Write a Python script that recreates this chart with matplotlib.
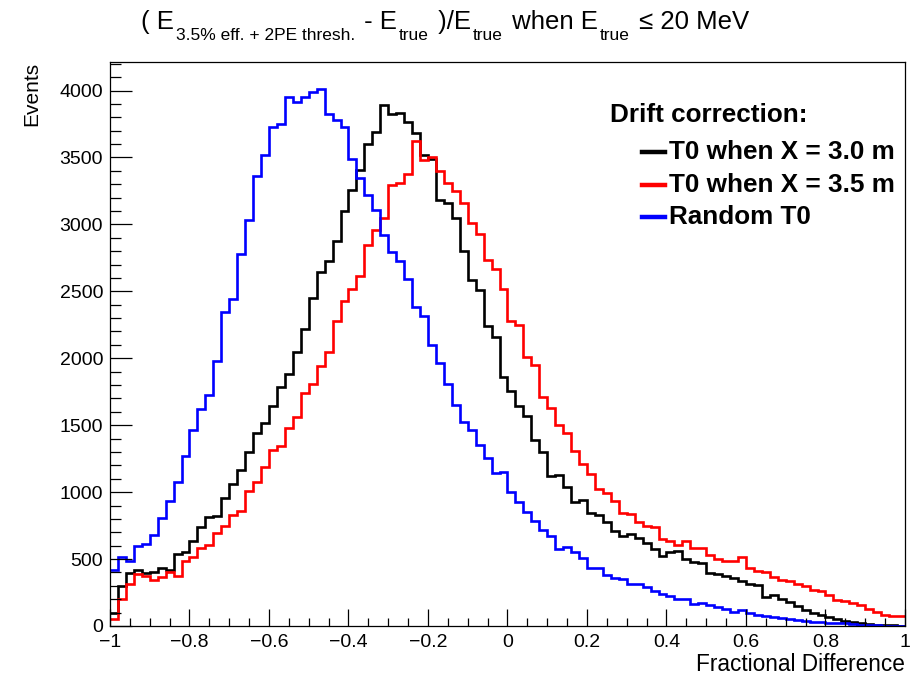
import matplotlib
matplotlib.use("Agg")
import matplotlib.pyplot as plt
import numpy as np
from matplotlib.transforms import IdentityTransform
from matplotlib.lines import Line2D

# 100 bins from -1 to 1
bin_edges = np.linspace(-1.0, 1.0, 101)

t0_30m = [
    100, 302, 394, 416, 396, 407, 432, 420, 538, 556,
    632, 740, 815, 823, 959, 1061, 1169, 1298, 1442, 1519,
    1644, 1782, 1884, 2044, 2218, 2448, 2648, 2729, 2877, 3103,
    3258, 3403, 3600, 3691, 3890, 3826, 3834, 3763, 3685, 3515,
    3485, 3183, 3161, 3047, 2799, 2588, 2508, 2238, 2160, 1858,
    1758, 1640, 1572, 1392, 1303, 1120, 1131, 1040, 925, 942,
    847, 830, 780, 707, 676, 690, 660, 623, 577, 523,
    556, 558, 500, 478, 468, 395, 385, 372, 356, 338,
    314, 306, 214, 230, 205, 181, 150, 120, 100, 82,
    65, 52, 40, 30, 22, 15, 10, 6, 4, 2,
]

t0_35m = [
    50, 199, 310, 392, 377, 342, 366, 400, 373, 483,
    514, 580, 606, 698, 750, 829, 856, 1008, 1077, 1188,
    1318, 1348, 1478, 1561, 1740, 1809, 1939, 2050, 2282, 2425,
    2519, 2618, 2847, 2955, 3048, 3292, 3307, 3378, 3621, 3480,
    3502, 3398, 3311, 3251, 3161, 3010, 2926, 2733, 2667, 2519,
    2279, 2246, 2013, 1953, 1710, 1631, 1504, 1444, 1308, 1209,
    1139, 1022, 990, 935, 843, 836, 774, 749, 736, 649,
    637, 604, 637, 582, 585, 530, 500, 488, 488, 512,
    434, 413, 402, 363, 345, 333, 312, 297, 272, 260,
    228, 191, 186, 169, 160, 125, 102, 80, 77, 77,
]

random_t0 = [
    419, 515, 482, 598, 616, 678, 809, 934, 1072, 1271,
    1464, 1624, 1729, 1981, 2348, 2439, 2782, 3033, 3362, 3522,
    3729, 3749, 3950, 3914, 3950, 3988, 4012, 3823, 3783, 3727,
    3490, 3348, 3217, 3109, 2920, 2792, 2729, 2595, 2381, 2315,
    2099, 1961, 1804, 1649, 1525, 1464, 1354, 1257, 1146, 1148,
    1000, 926, 850, 784, 720, 673, 578, 587, 552, 508,
    430, 430, 382, 360, 350, 312, 310, 292, 260, 239,
    221, 203, 199, 161, 175, 158, 144, 127, 102, 119,
    95, 85, 77, 70, 60, 52, 45, 35, 27, 27,
    22, 20, 20, 15, 10, 7, 7, 2, 2, 0,
]

series_labels = ["T0 when X = 3.0 m", "T0 when X = 3.5 m", "Random T0"]
series_colors = ["black", "red", "blue"]
legend_title = "Drift correction:"

x_ticks = [-1, -0.8, -0.6, -0.4, -0.2, 0, 0.2, 0.4, 0.6, 0.8, 1]
x_tick_labels = ["\u22121", "\u22120.8", "\u22120.6", "\u22120.4", "\u22120.2",
                 "0", "0.2", "0.4", "0.6", "0.8", "1"]
y_ticks = [0, 500, 1000, 1500, 2000, 2500, 3000, 3500, 4000]

FONT = "Liberation Sans"
plt.rcParams["font.family"] = FONT

fig = plt.figure(figsize=(9.12, 6.78), dpi=100)
W, H = 912, 678
ax = fig.add_axes([110 / W, 52 / H, 795 / W, 564 / H])

for vals, col in zip([t0_30m, t0_35m, random_t0], series_colors):
    ax.stairs(vals, bin_edges, color=col, linewidth=1.9, baseline=None)

ax.set_xlim(-1, 1)
ax.set_ylim(0, 4213)

ax.set_xticks(x_ticks)
ax.set_xticklabels(x_tick_labels)
ax.set_xticks(np.arange(-1, 1.001, 0.05), minor=True)
ax.set_yticks(y_ticks)
ax.set_yticks(np.arange(0, 4201, 100), minor=True)

ax.tick_params(axis="both", which="both", direction="in", top=False, right=False,
               labelsize=14, width=0.9)
ax.tick_params(axis="y", which="major", length=15.8, pad=5)
ax.tick_params(axis="y", which="minor", length=7.9)
ax.tick_params(axis="x", which="major", length=12.2, pad=6)
ax.tick_params(axis="x", which="minor", length=6.1)
for sp in ax.spines.values():
    sp.set_linewidth(0.9)

ax.set_xlabel("Fractional Difference", fontsize=16.3, loc="right", labelpad=1)
ax.set_ylabel("Events", fontsize=15, loc="top", labelpad=13)

# legend, placed by hand in pixel coordinates like the ROOT TLegend
px = IdentityTransform()
fig.text(610, H - 115, legend_title, fontsize=18.8, weight="bold",
         ha="left", va="center", transform=px)
row_y = [152, 185, 217]
for lab, col, ry in zip(series_labels, series_colors, row_y):
    fig.add_artist(Line2D([642, 665], [H - ry, H - ry], color=col,
                          linewidth=3.2, transform=px))
    fig.text(669, H - ry, lab, fontsize=18.8, weight="bold",
             ha="left", va="center", transform=px)

# title with ROOT style subscripts, built piece by piece
title_runs = [
    ("( E", 18.5, 0),
    ("3.5% eff. + 2PE thresh.", 12.5, -11),
    (" - E", 18.5, 0),
    ("true", 12.5, -11),
    (" )/E", 18.5, 0),
    ("true", 12.5, -11),
    (" when E", 18.5, 0),
    ("true", 12.5, -11),
    (" \u2264 20 MeV", 18.5, 0),
]
renderer = fig.canvas.get_renderer()
pieces = []
total = 0.0
for s, size, dy in title_runs:
    t = fig.text(0, 0, s, fontsize=size, family=[FONT, "DejaVu Sans"],
                 ha="left", va="baseline", transform=px)
    w = t.get_window_extent(renderer).width
    pieces.append((t, w, dy))
    total += w + 2
x0 = 446 - total / 2
base_y = H - 29
for t, w, dy in pieces:
    t.set_position((x0, base_y + dy))
    x0 += w + 2

fig.savefig("out.png", dpi=100)
